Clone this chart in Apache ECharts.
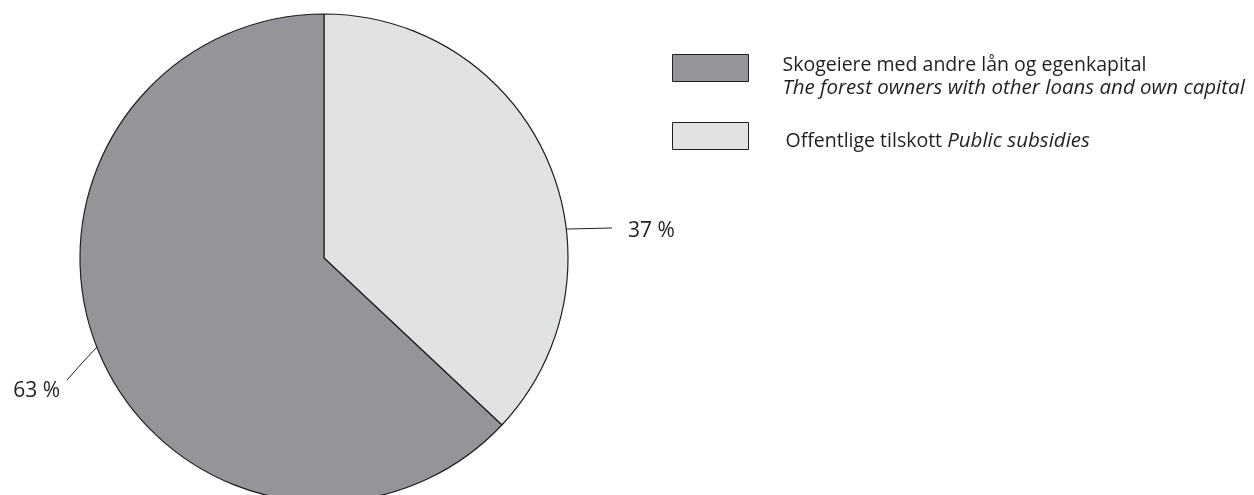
<!DOCTYPE html>
<html>
<head>
<meta charset="utf-8">
<script src="https://cdn.jsdelivr.net/npm/echarts@6/dist/echarts.min.js"></script>
<style>
html, body { margin: 0; padding: 0; background: #fff; }
#chart { width: 1254px; height: 495px; }
</style>
</head>
<body>
<div id="chart"></div>
<script>
// andel av finansiering (%)
var names = [
  'Offentlige tilskott Public subsidies',
  'Skogeiere med andre lån og egenkapital\nThe forest owners with other loans and own capital'
]
var values = [37, 63]
var colors = ['#e1e2e3', '#939598']

var chart = echarts.init(document.getElementById('chart'))

var legendBase = {
  orient: 'vertical',
  icon: 'rect',
  padding: 0,
  itemWidth: 76,
  itemHeight: 27,
  selectedMode: false,
  itemStyle: { borderColor: '#231f20', borderWidth: 1 },
  formatter: function (name) {
    var parts = name.split('\n')
    if (parts.length > 1) {
      return '{a|' + parts[0] + '}\n{b|' + parts[1] + '}'
    }
    var p = name.split(' Public')
    return '{a|' + p[0] + ' }{b|Public' + p[1] + '}'
  }
}

var option = {
  animation: false,
  color: colors,
  legend: [
    Object.assign({}, legendBase, {
      left: 672,
      top: 54,
      data: [names[1]],
      textStyle: {
        padding: [18, 0, 0, 29],
        rich: {
          a: { fontFamily: 'Open Sans', fontSize: 19.5, color: '#231f20', lineHeight: 23 },
          b: { fontFamily: 'Open Sans', fontStyle: 'italic', fontSize: 20.5, color: '#231f20', lineHeight: 23 }
        }
      }
    }),
    Object.assign({}, legendBase, {
      left: 672,
      top: 122,
      data: [names[0]],
      textStyle: {
        padding: [10, 0, 0, 32],
        rich: {
          a: { fontFamily: 'Open Sans', fontSize: 19.5, color: '#231f20' },
          b: { fontFamily: 'Open Sans', fontStyle: 'italic', fontSize: 20.5, color: '#231f20' }
        }
      }
    })
  ],
  series: [
    {
      type: 'pie',
      center: [324, 258],
      radius: 244,
      startAngle: 90,
      clockwise: true,
      silent: true,
      itemStyle: { borderColor: '#231f20', borderWidth: 1.2 },
      label: {
        show: true,
        position: 'outside',
        formatter: '{c} %',
        fontFamily: 'Open Sans',
        fontSize: 21,
        color: '#231f20',
        overflow: 'none',
        width: 80
      },
      labelLine: {
        show: true,
        lineStyle: { color: '#231f20', width: 1 }
      },
      labelLayout: function (params) {
        if (params.dataIndex === 0) {
          return {
            x: 628, y: 231, align: 'left', verticalAlign: 'middle',
            labelLinePoints: [[567, 229], [590, 228.5], [612, 228]]
          }
        }
        return {
          x: 60, y: 391, align: 'right', verticalAlign: 'middle',
          labelLinePoints: [[97, 347], [82, 363], [67, 380]]
        }
      },
      data: names.map(function (n, i) {
        return { name: n, value: values[i] }
      })
    }
  ]
}

chart.setOption(option)
</script>
</body>
</html>
